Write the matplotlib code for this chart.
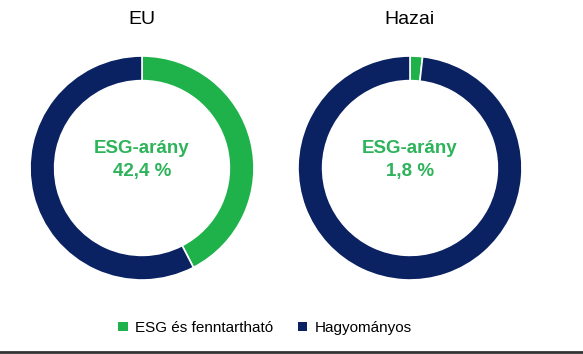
import matplotlib.pyplot as plt
from matplotlib.lines import Line2D
from matplotlib.patches import Patch

titles = ['EU', 'Hazai']
esg_share = [42.4, 1.8]
labels = ['ESG és fenntartható', 'Hagyományos']
colors = ['#1fb24b', '#0b2262']

plt.rcParams['font.family'] = ['Liberation Sans', 'DejaVu Sans']

W, H = 583, 354
fig = plt.figure(figsize=(W / 100, H / 100), dpi=100)

centers = [142, 410]
r = 112
for cx, title, share in zip(centers, titles, esg_share):
    ax = fig.add_axes([(cx - r) / W, (H - 168 - r) / H, 2 * r / W, 2 * r / H])
    ax.pie([share, 100 - share], colors=colors, startangle=90, counterclock=False,
           radius=1, wedgeprops=dict(width=0.22, edgecolor='white', linewidth=1.2))
    ax.set_xlim(-1, 1)
    ax.set_ylim(-1, 1)
    ax.set_aspect('auto')
    ax.axis('off')
    ax.text(0, 0.07, 'ESG-arány\n' + f'{share:.1f}'.replace('.', ',') + ' %',
            ha='center', va='center', color='#2db35a', fontsize=13.5,
            fontweight='bold', linespacing=1.5)
    fig.text(cx / W, 1 - 20 / H, title, ha='center', va='center', fontsize=14, color='black')

handles = [Patch(facecolor=c, edgecolor='none') for c in colors]
fig.legend(handles, labels, loc='center', bbox_to_anchor=(265 / W, 1 - 328 / H), ncol=2,
           frameon=False, fontsize=11, handlelength=0.6, handleheight=0.6,
           columnspacing=1.6, handletextpad=0.5)

fig.add_artist(Line2D([0, 1], [1 - 352 / H, 1 - 352 / H], color='#333333', linewidth=2))

fig.savefig('out.png', dpi=100)
